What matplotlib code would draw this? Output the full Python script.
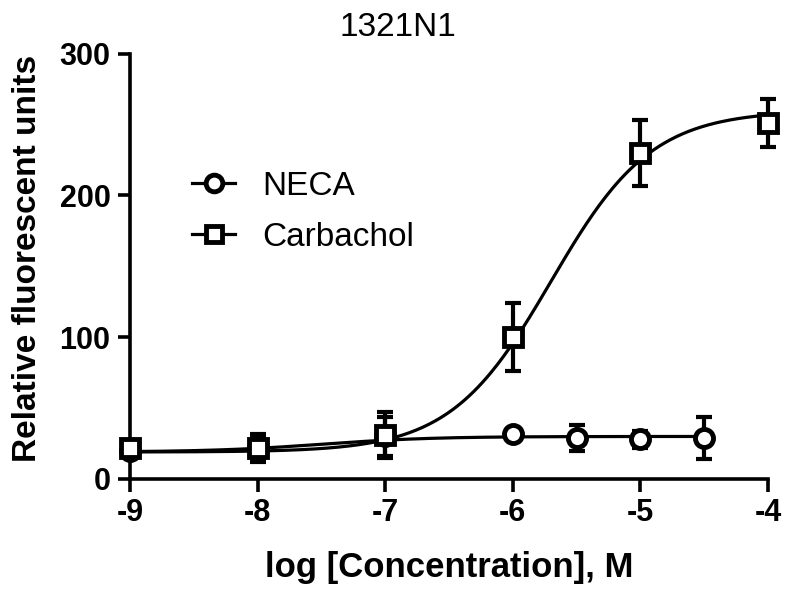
"""1321N1 concentration-response: NECA vs Carbachol."""
import matplotlib

matplotlib.use("Agg")
import matplotlib.pyplot as plt
import numpy as np

plt.rcParams["font.family"] = ["Liberation Sans", "DejaVu Sans"]

# measured points (mean +/- error)
neca_x = [-9, -8, -7, -6, -5.5, -5, -4.5]
neca_y = [20, 22, 30, 32, 29, 28, 29]
neca_err = [2, 8, 14, 3, 9, 6, 15]

carb_x = [-9, -8, -7, -6, -5, -4]
carb_y = [22, 22, 31, 100, 230, 251]
carb_err = [2, 10, 16, 24, 23, 17]

# sigmoid fit parameters: bottom, top, logEC50, hill slope
neca_fit = (19.0, 30.0, -7.5, 1.0)
carb_fit = (19.0, 260.0, -5.7, 1.1)


def sigmoid(x, bottom, top, logec50, hill):
    return bottom + (top - bottom) / (1 + 10 ** ((logec50 - x) * hill))


fig = plt.figure(figsize=(8, 6.04), dpi=100)
ax = fig.add_axes([0.1625, 0.207, 0.7975, 0.704])

LW = 2.3
for x, y, err, fit, marker, label, xmax in [
    (neca_x, neca_y, neca_err, neca_fit, "o", "NECA", -4.45),
    (carb_x, carb_y, carb_err, carb_fit, "s", "Carbachol", -4.0),
]:
    xs = np.linspace(-9, xmax, 300)
    ax.plot(xs, sigmoid(xs, *fit), color="black", lw=LW, zorder=2)
    ax.errorbar(x, y, yerr=err, fmt="none", ecolor="black", elinewidth=3,
                capsize=6, capthick=3, zorder=3)
    ax.plot(x, y, marker=marker, linestyle="none", markersize=13,
            markerfacecolor="white", markeredgecolor="black",
            markeredgewidth=3.5, zorder=4)
    # legend proxy
    ax.plot([], [], color="black", lw=LW, marker=marker, markersize=12,
            markerfacecolor="white", markeredgecolor="black",
            markeredgewidth=3.5, label=label)

ax.set_xlim(-9, -4)
ax.set_ylim(0, 300)
ax.set_xticks([-9, -8, -7, -6, -5, -4])
ax.set_yticks([0, 100, 200, 300])
ax.set_xticklabels(["-9", "-8", "-7", "-6", "-5", "-4"])

for side in ("top", "right"):
    ax.spines[side].set_visible(False)
for side in ("left", "bottom"):
    ax.spines[side].set_linewidth(2.6)
ax.tick_params(width=2.6, length=9, labelsize=22, pad=5)
for lab in ax.get_xticklabels() + ax.get_yticklabels():
    lab.set_fontweight("bold")

ax.set_xlabel("log [Concentration], M", fontsize=25, fontweight="bold", labelpad=16)
ax.set_ylabel("Relative fluorescent units", fontsize=24, fontweight="bold")
ax.yaxis.set_label_coords(-0.136, 0.518)
fig.text(0.497, 0.955, "1321N1", fontsize=24, ha="center", va="center")

ax.legend(loc="upper left", bbox_to_anchor=(0.05, 0.795), frameon=False,
          fontsize=24, handlelength=1.3, labelspacing=0.6, handletextpad=0.8)

for artist in ax.lines + ax.collections:
    artist.set_clip_on(False)

fig.savefig("out.png", dpi=100)
